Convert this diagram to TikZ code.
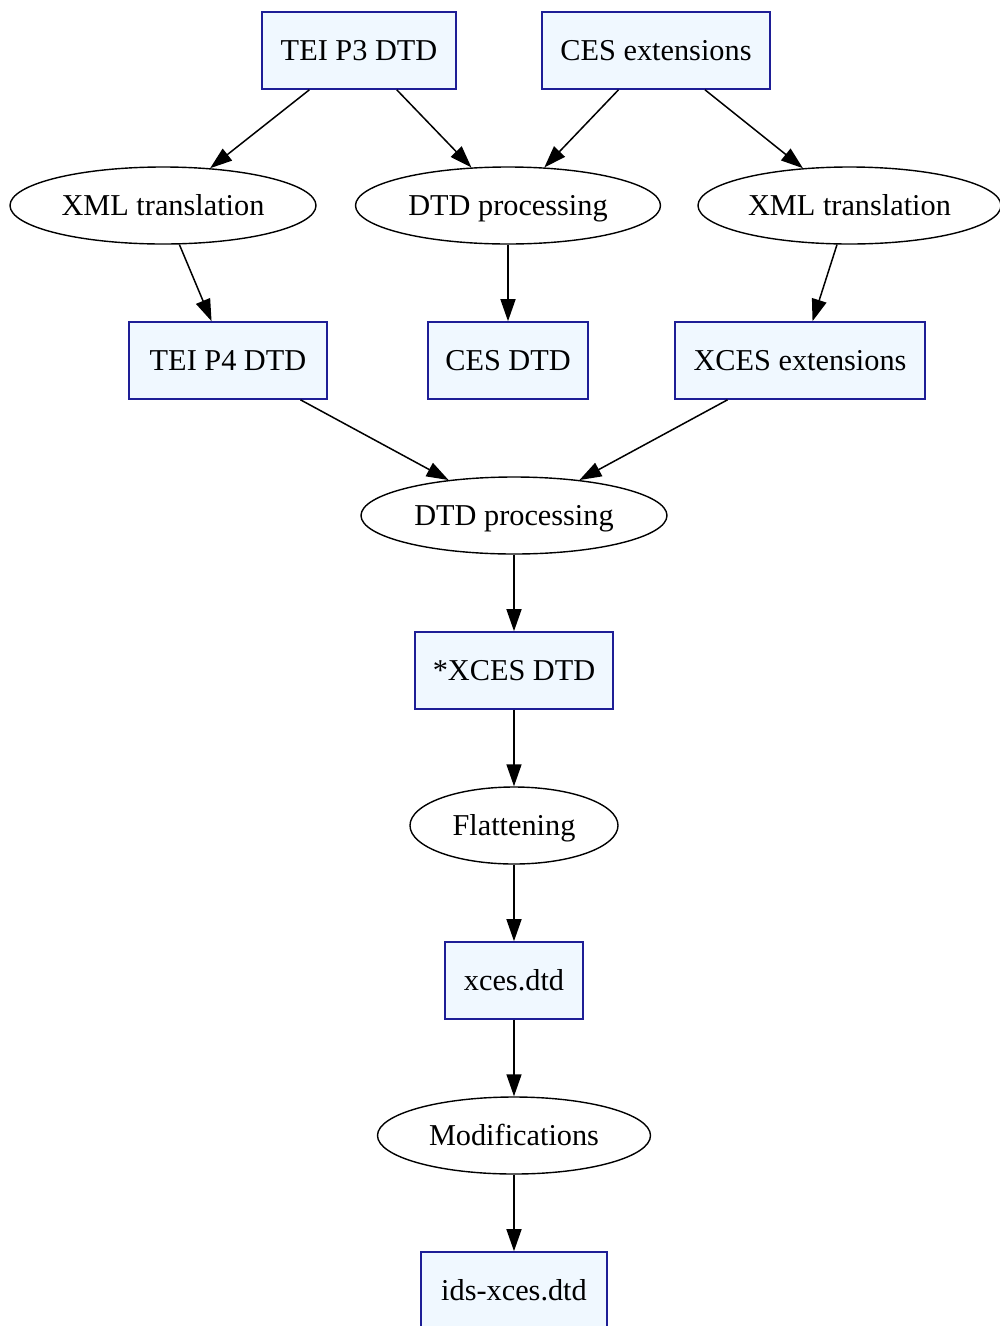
\documentclass[tikz,border=0pt]{standalone}
\usepackage{fontspec}
\setmainfont{Liberation Serif}
\usepackage{xcolor}
\usetikzlibrary{shapes.geometric, arrows.meta, positioning, calc}

\definecolor{boxfill}{HTML}{F0F8FF}
\definecolor{boxline}{HTML}{1E1E96}

\begin{document}
\begin{tikzpicture}[x=1pt, y=-1pt,
    box/.style={rectangle, draw=boxline, fill=boxfill, line width=1.6pt, minimum height=77pt, inner sep=0pt, text height=26pt, text depth=6pt, font=\fontsize{30.3}{36}\selectfont},
    proc/.style={ellipse, draw, line width=1.4pt, minimum height=77pt, inner sep=0pt, text height=26pt, text depth=6pt, font=\fontsize{30.3}{36}\selectfont},
    arrow/.style={-{Triangle[length=22pt, width=15pt]}, line width=1.5pt}
  ]
  \useasboundingbox (0,0) rectangle (1000,1326);
  \clip (0,0) rectangle (1000,1326);

  % --- SOURCES ---
  \node[box, minimum width=194pt] (tei3) at (359,50.5) {TEI P3 DTD};
  \node[box, minimum width=228pt] (cesext) at (656,50.5) {CES extensions};

  % --- FIRST STEP ---
  \node[proc, minimum width=306pt] (xmlA) at (163,205.5) {XML translation};
  \node[proc, minimum width=305pt] (dtdA) at (508,205.5) {DTD processing};
  \node[proc, minimum width=303pt] (xmlB) at (849.5,205.5) {XML translation};

  \node[box, minimum width=198pt] (tei4) at (228,360.5) {TEI P4 DTD};
  \node[box, minimum width=160pt] (cesdtd) at (508,360.5) {CES DTD};
  \node[box, minimum width=250pt] (xcesext) at (800,360.5) {XCES extensions};

  % --- MAIN CHAIN ---
  \node[proc, minimum width=306pt] (dtdB) at (514,515.5) {DTD processing};
  \node[box, minimum width=198pt] (xcesdtd) at (514,670.5) {*XCES DTD};
  \node[proc, minimum width=208pt] (flat) at (514,825.5) {Flattening};
  \node[box, minimum width=138pt] (xces) at (514,980.5) {xces.dtd};
  \node[proc, minimum width=273pt] (modif) at (514,1135.5) {Modifications};
  \node[box, minimum width=186pt] (ids) at (514,1290.5) {ids-xces.dtd};

  % edges
  \draw[arrow] (tei3) -- (xmlA);
  \draw[arrow] (tei3) -- (dtdA);
  \draw[arrow] (cesext) -- (dtdA);
  \draw[arrow] (cesext) -- (xmlB);
  \draw[arrow] (xmlA) -- (tei4);
  \draw[arrow] (dtdA) -- (cesdtd);
  \draw[arrow] (xmlB) -- (xcesext);
  \draw[arrow] (tei4) -- (dtdB);
  \draw[arrow] (xcesext) -- (dtdB);
  \draw[arrow] (dtdB) -- (xcesdtd);
  \draw[arrow] (xcesdtd) -- (flat);
  \draw[arrow] (flat) -- (xces);
  \draw[arrow] (xces) -- (modif);
  \draw[arrow] (modif) -- (ids);
\end{tikzpicture}
\end{document}
